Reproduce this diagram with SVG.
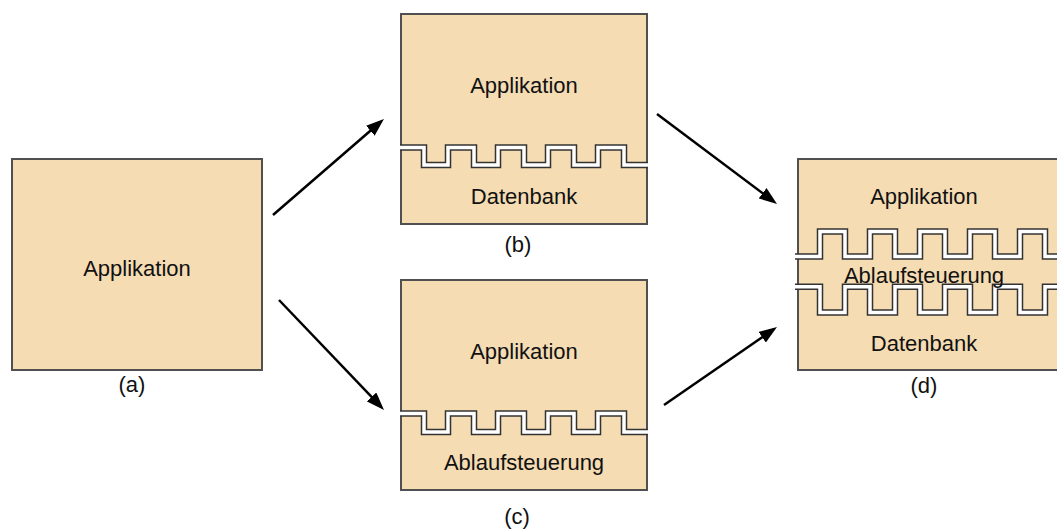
<svg xmlns="http://www.w3.org/2000/svg" width="1057" height="529" viewBox="0 0 1057 529">
<style>
.box{fill:#F5DCB3;stroke:#505050;stroke-width:2}
.t{font-family:"Liberation Sans",Arial,sans-serif;font-size:22px;fill:#111;text-anchor:middle}
.sd{fill:none;stroke:#333;stroke-width:6.5;stroke-linejoin:miter;stroke-linecap:butt}
.sw{fill:none;stroke:#fff;stroke-width:3.5;stroke-linejoin:miter;stroke-linecap:butt}
.arr{fill:none;stroke:#000;stroke-width:2.5}
</style>
<defs>
<marker id="ah" viewBox="0 0 18 13" refX="10" refY="6.5" markerWidth="18" markerHeight="13" markerUnits="userSpaceOnUse" orient="auto">
<path d="M0,0 L18,6.5 L0,13 z" fill="#000"/>
</marker>
<path id="stripB" d="M400,147.5 H424 V165 H448 V147.5 H474 V165 H498 V147.5 H524 V165 H548 V147.5 H574 V165 H598 V147.5 H624 V165 H648"/>
<path id="stripC" d="M400,413.5 H424 V432 H448 V413.5 H474 V432 H498 V413.5 H524 V432 H548 V413.5 H574 V432 H598 V413.5 H624 V432 H648"/>
<path id="stripD1" d="M795,256.5 H820 V231.5 H845 V256.5 H870 V231.5 H895 V256.5 H920 V231.5 H945 V256.5 H970 V231.5 H995 V256.5 H1020 V231.5 H1045 V256.5 H1062"/>
<path id="stripD2" d="M795,286.7 H820 V312.5 H845 V286.7 H870 V312.5 H895 V286.7 H920 V312.5 H945 V286.7 H970 V312.5 H995 V286.7 H1020 V312.5 H1045 V286.7 H1062"/>
</defs>
<rect width="1057" height="529" fill="#fff"/>
<g id="nodeA">
<rect class="box" x="12" y="159" width="250" height="211"/>
<text class="t" x="137" y="276">Applikation</text>
<text class="t" x="132" y="392">(a)</text>
</g>
<g id="nodeB">
<rect class="box" x="401" y="14" width="246" height="210"/>
<use href="#stripB" class="sd"/>
<use href="#stripB" class="sw"/>
<text class="t" x="524" y="93">Applikation</text>
<text class="t" x="524" y="204">Datenbank</text>
<text class="t" x="518" y="252">(b)</text>
</g>
<g id="nodeC">
<rect class="box" x="401" y="280" width="246" height="210"/>
<use href="#stripC" class="sd"/>
<use href="#stripC" class="sw"/>
<text class="t" x="524" y="359">Applikation</text>
<text class="t" x="524" y="470">Ablaufsteuerung</text>
<text class="t" x="517" y="524">(c)</text>
</g>
<g id="nodeD">
<rect class="box" x="798" y="159" width="270" height="211"/>
<use href="#stripD1" class="sd"/>
<use href="#stripD1" class="sw"/>
<use href="#stripD2" class="sd"/>
<use href="#stripD2" class="sw"/>
<text class="t" x="924" y="204">Applikation</text>
<text class="t" x="924" y="283">Ablaufsteuerung</text>
<text class="t" x="924" y="351">Datenbank</text>
<text class="t" x="924" y="393">(d)</text>
</g>
<g id="connectors">
<line class="arr" x1="273" y1="215" x2="377.9" y2="124.2" marker-end="url(#ah)"/>
<line class="arr" x1="657" y1="114" x2="770.6" y2="199.2" marker-end="url(#ah)"/>
<line class="arr" x1="279" y1="300" x2="378.5" y2="404.2" marker-end="url(#ah)"/>
<line class="arr" x1="664" y1="405" x2="770.4" y2="331.5" marker-end="url(#ah)"/>
</g>
</svg>
